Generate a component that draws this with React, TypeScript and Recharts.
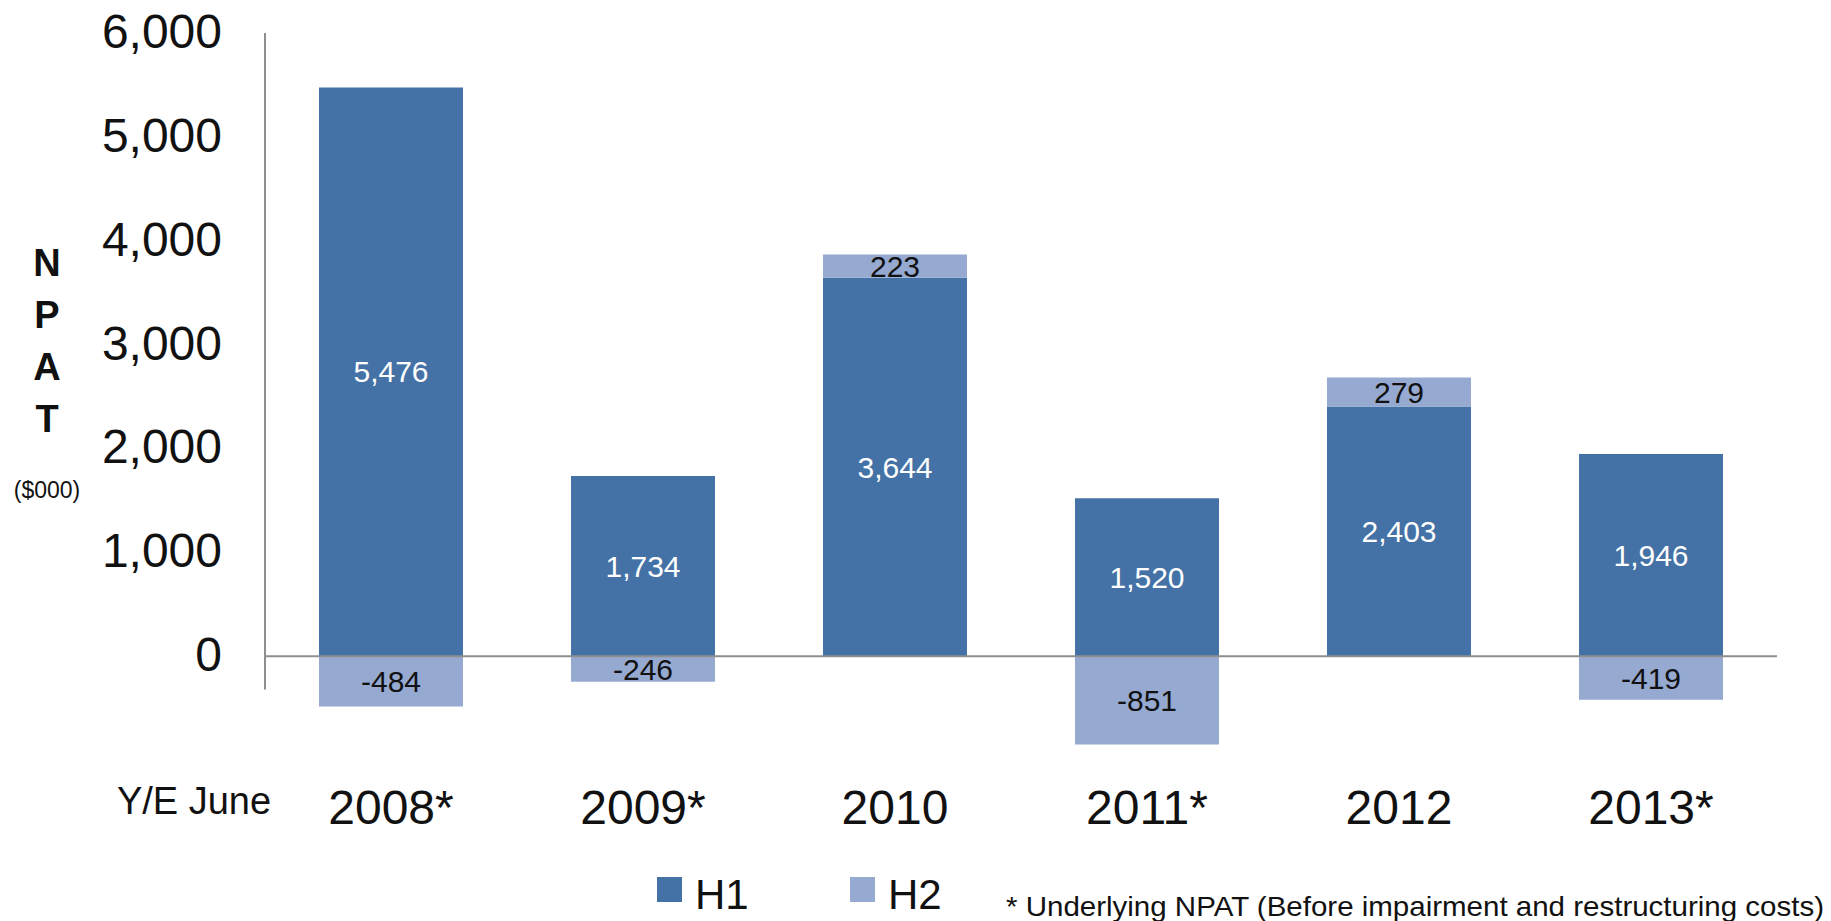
import { Bar, BarChart, LabelList, Legend, ReferenceLine, XAxis, YAxis } from "recharts";

const years = ["2008*", "2009*", "2010", "2011*", "2012", "2013*"];
const h1Values = [5476, 1734, 3644, 1520, 2403, 1946];
const h2Values = [-484, -246, 223, -851, 279, -419];
const yTicks = [0, 1000, 2000, 3000, 4000, 5000, 6000];

const data = years.map((year, i) => ({ year, H1: h1Values[i], H2: h2Values[i] }));

const FONT = "'Liberation Sans', Arial, sans-serif";
const H1_COLOR = "#4472a6";
const H2_COLOR = "#95a9d1";
const AXIS_COLOR = "#8f8f8f";

const fmt = (v: number) => v.toLocaleString("en-US");

function NpatLabel({ viewBox }: any) {
  const x = viewBox.x + 47;
  const top = viewBox.y;
  return (
    <g fontFamily={FONT} fill="#111">
      {["N", "P", "A", "T"].map((ch, i) => (
        <text key={ch} x={x} y={top + 230 + i * 52} textAnchor="middle" dominantBaseline="central" fontSize={38} fontWeight="bold">
          {ch}
        </text>
      ))}
      <text x={x} y={top + 457} textAnchor="middle" dominantBaseline="central" fontSize={23}>
        ($000)
      </text>
    </g>
  );
}

function YearLabel({ viewBox }: any) {
  return (
    <text x={viewBox.x - 71} y={viewBox.y + 41} textAnchor="middle" dominantBaseline="central" fontFamily={FONT} fontSize={38} fill="#111">
      Y/E June
    </text>
  );
}

function YearTick({ x, y, payload }: any) {
  return (
    <text x={x} y={y + 45} textAnchor="middle" dominantBaseline="central" fontFamily={FONT} fontSize={48} fill="#111">
      {payload.value}
    </text>
  );
}

// legend row + footnote, drawn in one strip under the axis labels
function LegendBox({ payload }: any) {
  const spots = [657, 850];
  return (
    <svg width={1831} height={71} style={{ display: "block", overflow: "visible" }}>
      {(payload || []).map((entry: any, i: number) => (
        <g key={entry.value}>
          <rect x={spots[i]} y={27} width={25} height={25} fill={entry.color} />
          <text x={spots[i] + 38} y={44} dominantBaseline="central" fontFamily={FONT} fontSize={42} fill="#111">
            {entry.value}
          </text>
        </g>
      ))}
      <text x={1006} y={56} dominantBaseline="central" fontFamily={FONT} fontSize={28} fill="#111" textLength={818} lengthAdjust="spacingAndGlyphs">
        * Underlying NPAT (Before impairment and restructuring costs)
      </text>
    </svg>
  );
}

export default function App() {
  return (
    <div style={{ position: "absolute", left: 0, top: 0, background: "#fff" }}>
      <BarChart
        width={1831}
        height={921}
        data={data}
        stackOffset="sign"
        margin={{ top: 33, right: 54, bottom: 0, left: 0 }}
        barSize={144}
      >
        <XAxis
          dataKey="year"
          height={161}
          axisLine={false}
          tickLine={false}
          tickSize={0}
          tick={<YearTick />}
          interval={0}
          label={<YearLabel />}
        />
        <XAxis xAxisId="frame" type="number" domain={[0, 6]} hide allowDataOverflow />
        <YAxis
          width={265}
          domain={[-1000, 6000]}
          ticks={yTicks}
          allowDataOverflow
          axisLine={false}
          tickLine={false}
          tickSize={0}
          tickMargin={43}
          tickFormatter={fmt}
          tick={{ fontFamily: FONT, fontSize: 48, fill: "#111", dy: -2 }}
          label={<NpatLabel />}
        />
        <Legend
          layout="vertical"
          align="center"
          verticalAlign="middle"
          wrapperStyle={{ left: 0, top: 850, width: 1831 }}
          content={<LegendBox />}
        />
        <Bar dataKey="H1" name="H1" stackId="npat" fill={H1_COLOR} isAnimationActive={false}>
          <LabelList dataKey="H1" position="center" formatter={(v: any) => fmt(Number(v))} fill="#fff" fontFamily={FONT} fontSize={30} />
        </Bar>
        <Bar dataKey="H2" name="H2" stackId="npat" fill={H2_COLOR} isAnimationActive={false}>
          <LabelList dataKey="H2" position="center" formatter={(v: any) => fmt(Number(v))} fill="#111" fontFamily={FONT} fontSize={30} />
        </Bar>
        <ReferenceLine y={0} stroke={AXIS_COLOR} strokeWidth={2} />
        <ReferenceLine
          xAxisId="frame"
          segment={[{ x: 0, y: 6000 }, { x: 0, y: -320 }]}
          stroke={AXIS_COLOR}
          strokeWidth={2}
          ifOverflow="visible"
        />
      </BarChart>
    </div>
  );
}
